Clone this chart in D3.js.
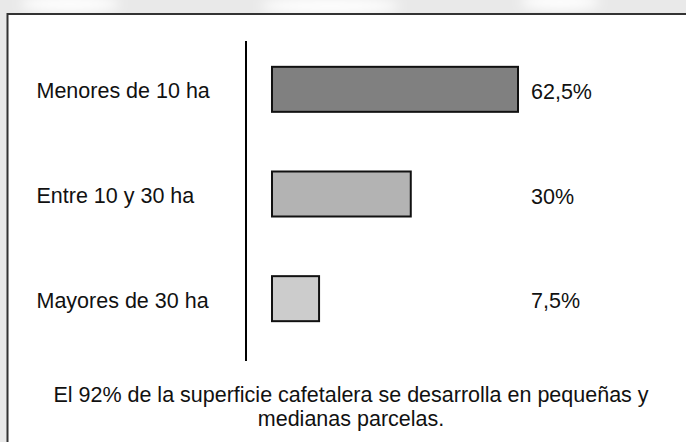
<!DOCTYPE html>
<html>
<head>
<meta charset="utf-8">
<script src="https://cdn.jsdelivr.net/npm/d3@7"></script>
<style>
  html, body { margin: 0; padding: 0; background: #fff; }
  text { font-family: "Liberation Sans", Arial, sans-serif; fill: #111; }
</style>
</head>
<body>
<div id="chart"></div>
<script>
// data
const categories = ["Menores de 10 ha", "Entre 10 y 30 ha", "Mayores de 30 ha"];
const values = [62.5, 30, 7.5];
const valueLabels = ["62,5%", "30%", "7,5%"];
const captionLines = [
  "El 92% de la superficie cafetalera se desarrolla en pequeñas y",
  "medianas parcelas."
];

const width = 686, height = 442;
const fills = ["#808080", "#b3b3b3", "#cccccc"];
const fontSize = 21.5;

const svg = d3.select("#chart")
  .append("svg")
  .attr("width", width)
  .attr("height", height);

// faint background strip above the frame
svg.append("rect")
  .attr("x", 0).attr("y", 0)
  .attr("width", width).attr("height", height)
  .attr("fill", "#e9e9e9");

const blur = svg.append("defs").append("filter").attr("id", "blur");
blur.append("feGaussianBlur").attr("stdDeviation", 6);
[[70, 4, 50], [330, 6, 70], [560, 2, 40]].forEach(b => {
  svg.append("ellipse")
    .attr("cx", b[0]).attr("cy", b[1])
    .attr("rx", b[2]).attr("ry", 8)
    .attr("fill", "#fff")
    .attr("filter", "url(#blur)");
});

// frame
svg.append("rect")
  .attr("x", 7.5).attr("y", 14)
  .attr("width", 700).attr("height", 460)
  .attr("fill", "#fff")
  .attr("stroke", "#333")
  .attr("stroke-width", 2);

// scales
const y = d3.scaleBand()
  .domain(categories)
  .range([37, 351])
  .paddingInner(0.57)
  .paddingOuter(0.285);

const x = d3.scalePow()
  .exponent(0.78)
  .domain([0, d3.max(values)])
  .range([272, 518]);

// axis line
svg.append("line")
  .attr("x1", 246).attr("x2", 246)
  .attr("y1", 41).attr("y2", 361)
  .attr("stroke", "#000")
  .attr("stroke-width", 2);

// category labels
svg.selectAll(".cat")
  .data(categories)
  .enter().append("text")
  .attr("class", "cat")
  .attr("x", 36.5)
  .attr("y", d => y(d) + y.bandwidth() / 2)
  .attr("dy", "0.42em")
  .attr("font-size", fontSize)
  .text(d => d);

// bars
svg.selectAll(".bar")
  .data(values)
  .enter().append("rect")
  .attr("class", "bar")
  .attr("x", x(0))
  .attr("y", (d, i) => y(categories[i]))
  .attr("width", d => x(d) - x(0))
  .attr("height", y.bandwidth())
  .attr("fill", (d, i) => fills[i])
  .attr("stroke", "#111")
  .attr("stroke-width", 2);

// value labels
svg.selectAll(".val")
  .data(values)
  .enter().append("text")
  .attr("class", "val")
  .attr("x", d => x(d3.max(values)) + 13)
  .attr("y", (d, i) => y(categories[i]) + y.bandwidth() / 2)
  .attr("dy", "0.45em")
  .attr("font-size", fontSize)
  .text((d, i) => valueLabels[i]);

// caption
svg.selectAll(".cap")
  .data(captionLines)
  .enter().append("text")
  .attr("class", "cap")
  .attr("x", 351)
  .attr("y", (d, i) => 402 + i * 23.5)
  .attr("text-anchor", "middle")
  .attr("font-size", fontSize)
  .text(d => d);
</script>
</body>
</html>
